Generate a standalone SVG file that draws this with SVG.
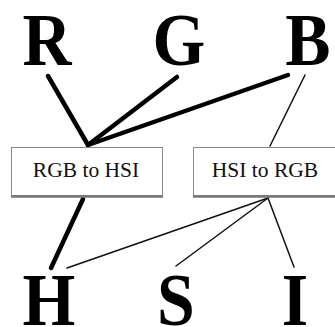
<svg xmlns="http://www.w3.org/2000/svg" width="335" height="327" viewBox="0 0 335 327">
<style>
.big{font-family:"Liberation Serif",serif;font-weight:bold;font-size:73px;fill:#000;text-anchor:middle}
.lbl{font-family:"Liberation Serif",serif;font-size:21.5px;fill:#111;text-anchor:middle}
.box{fill:#fff;stroke:#8a8a8a;stroke-width:1}
.shadow{stroke:#777;stroke-width:2.5}
.thick{stroke:#000;stroke-width:4.5;stroke-linecap:round;fill:none}
.thin{stroke:#111;stroke-width:1.5;stroke-linecap:round;fill:none}
</style>
<rect width="335" height="327" fill="#fff"/>
<g id="connectors">
<line class="thick" x1="48" y1="76" x2="88" y2="145"/>
<line class="thick" x1="177" y1="77" x2="88" y2="145"/>
<line class="thick" x1="288" y1="75" x2="88" y2="145"/>
<line class="thin" x1="305" y1="75" x2="270" y2="146"/>
<line class="thick" x1="83" y1="199" x2="51" y2="268"/>
<line class="thin" x1="268" y1="198" x2="67" y2="268"/>
<line class="thin" x1="268" y1="198" x2="176" y2="266"/>
<line class="thin" x1="268" y1="198" x2="294" y2="267"/>
</g>
<g id="R"><text class="big" x="47" y="65" transform="translate(47 0) scale(0.93 1) translate(-47 0)">R</text></g>
<g id="G"><text class="big" x="179" y="65" transform="translate(179 0) scale(0.93 1) translate(-179 0)">G</text></g>
<g id="B"><text class="big" x="308" y="65" transform="translate(308 0) scale(0.93 1) translate(-308 0)">B</text></g>
<g id="rgb2hsi">
<rect class="box" x="11.5" y="147.5" width="151" height="48"/>
<line class="shadow" x1="11" y1="196.5" x2="163" y2="196.5"/>
<text class="lbl" x="86" y="177">RGB to HSI</text>
</g>
<g id="hsi2rgb">
<rect class="box" x="193.5" y="147.5" width="150" height="48"/>
<line class="shadow" x1="193" y1="196.5" x2="335" y2="196.5"/>
<text class="lbl" x="265" y="177">HSI to RGB</text>
</g>
<g id="H"><text class="big" x="49" y="325" transform="translate(49 0) scale(0.93 1) translate(-49 0)">H</text></g>
<g id="S"><text class="big" x="176" y="325" transform="translate(176 0) scale(0.93 1) translate(-176 0)">S</text></g>
<g id="I"><text class="big" x="295" y="325" transform="translate(295 0) scale(0.93 1) translate(-295 0)">I</text></g>
</svg>
